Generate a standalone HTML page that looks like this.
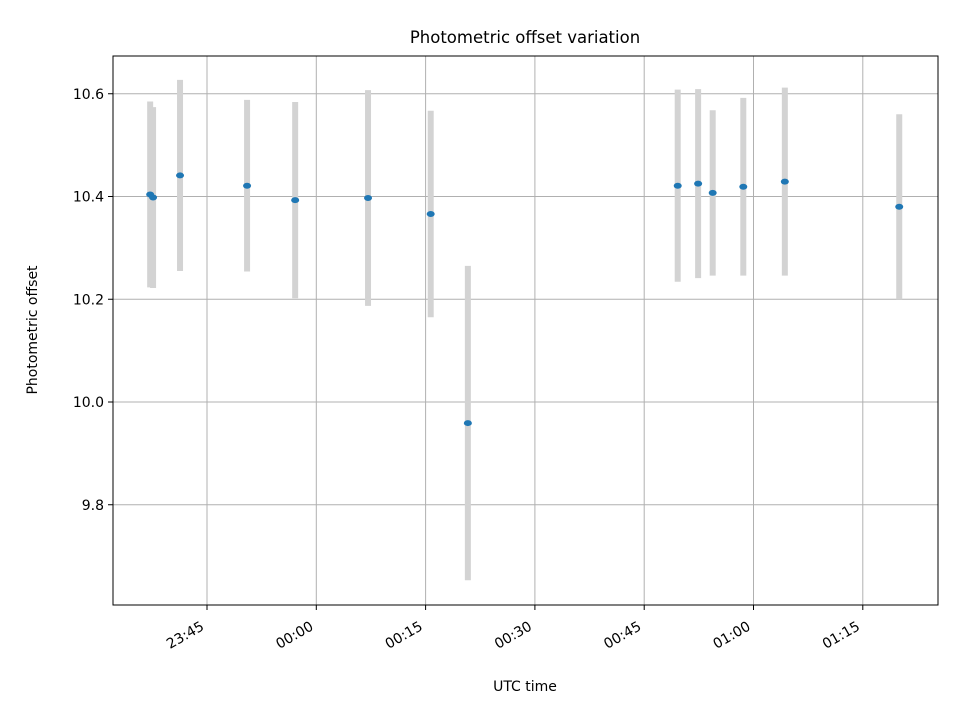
<!DOCTYPE html>
<html><head><meta charset="utf-8"><style>
body{margin:0;background:#fff}
svg text{font-family:"DejaVu Sans","Liberation Sans",sans-serif;fill:#000}
</style></head><body>
<svg id="chart" width="960" height="720" xmlns="http://www.w3.org/2000/svg">
<rect width="960" height="720" fill="#fff"/>
<g id="grid"></g><g id="bars"></g><g id="pts"></g><g id="axes"></g>
<text x="525" y="43" font-size="16.5" text-anchor="middle">Photometric offset variation</text>
<text x="525" y="691" font-size="14" text-anchor="middle">UTC time</text>
<text transform="translate(37,330) rotate(-90)" font-size="14" text-anchor="middle">Photometric offset</text>
</svg>
<script>
// minutes after 23:45
const times=[-7.8,-7.4,-3.7,5.5,12.1,22.1,30.7,35.8,64.6,67.4,69.4,73.6,79.3,95.0];
const offsets=[10.404,10.398,10.441,10.421,10.393,10.397,10.366,9.959,10.421,10.425,10.407,10.419,10.429,10.380];
const errors=[0.181,0.176,0.186,0.167,0.191,0.210,0.201,0.306,0.187,0.184,0.161,0.173,0.183,0.180];
const xTickMinutes=[0,15,30,45,60,75,90];
const xTickLabels=["23:45","00:00","00:15","00:30","00:45","01:00","01:15"];
const yTicks=[9.8,10.0,10.2,10.4,10.6];
const L=113,R=938,T=56,B=605;
const X=m=>207+m*(109.3/15);
const Y=v=>402-(v-10.0)*(102.75/0.2);
const NS="http://www.w3.org/2000/svg";
function mk(p,tag,a){const e=document.createElementNS(NS,tag);for(const k in a)e.setAttribute(k,a[k]);document.getElementById(p).appendChild(e);return e;}
xTickMinutes.forEach((m,i)=>{
 const x=X(m);
 let g=mk("grid","line",{x1:x,x2:x,y1:T,y2:B,stroke:"#b0b0b0","stroke-width":1});
 
 
 mk("axes","line",{x1:x,x2:x,y1:B,y2:B+5,stroke:"#000"});
 let t=mk("axes","text",{transform:`translate(${x-2},${B+24}) rotate(-30)`,"font-size":14,"text-anchor":"end"});
 t.textContent=xTickLabels[i];
 
 
});
yTicks.forEach(v=>{
 const y=Y(v);
 let g=mk("grid","line",{x1:L,x2:R,y1:y,y2:y,stroke:"#b0b0b0","stroke-width":1});
 
 
 mk("axes","line",{x1:L-5,x2:L,y1:y,y2:y,stroke:"#000"});
 let t=mk("axes","text",{x:L-9,y:y+5,"font-size":14,"text-anchor":"end"});
 t.textContent=v.toFixed(1);
 
 
});
let fr=mk("axes","rect",{x:L,y:T,width:R-L,height:B-T,fill:"none",stroke:"#000","stroke-width":1});


times.forEach((m,i)=>{
 const x=X(m);
 let b=mk("bars","line",{x1:x,x2:x,y1:Y(offsets[i]+errors[i]),y2:Y(offsets[i]-errors[i]),stroke:"#d3d3d3","stroke-width":6});
 
 
 let p=mk("pts","ellipse",{cx:x,cy:Y(offsets[i]),rx:4,ry:3,fill:"#1f77b4"});
 
 
});
</script>
</body></html>
